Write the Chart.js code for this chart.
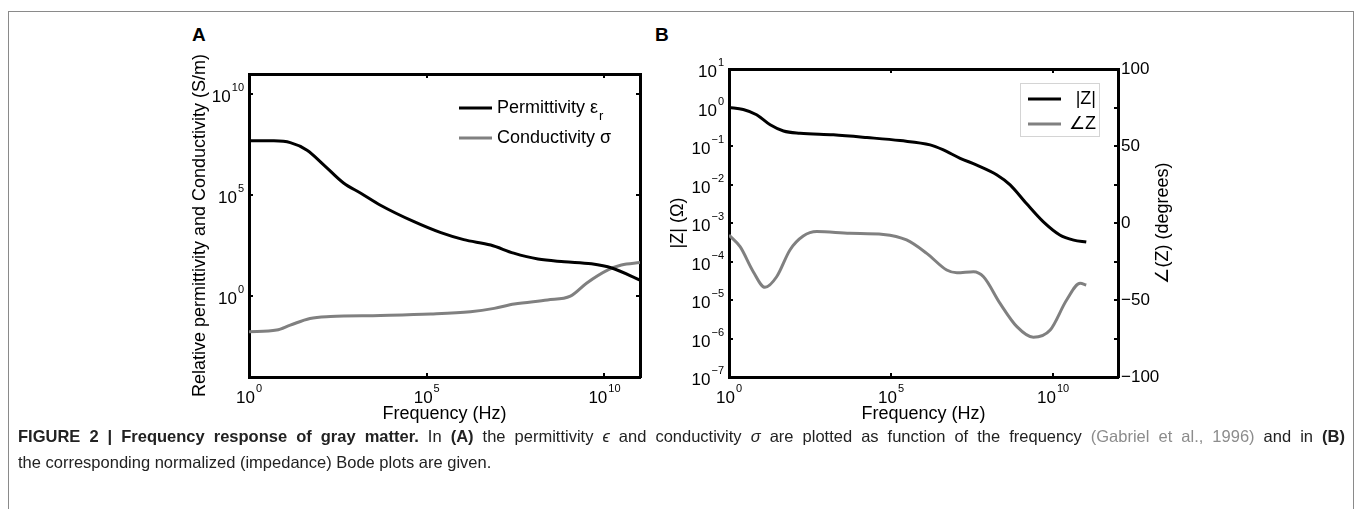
<!DOCTYPE html>
<html>
<head>
<meta charset="utf-8">
<script src="https://cdn.jsdelivr.net/npm/chart.js@4.4.0/dist/chart.umd.min.js"></script>
<style>
body{margin:0;background:#fff;width:1358px;height:509px;position:relative;overflow:hidden;font-family:"Liberation Sans",Arial,sans-serif;color:#222}
#frame{position:absolute;left:8px;top:11px;width:1344px;height:540px;border:1px solid #8a8a8a}
canvas{position:absolute}
#cA{left:150px;top:30px}
#cB{left:640px;top:30px}
.tag{position:absolute;font-weight:bold;font-size:19px;color:#000}
#caption{position:absolute;left:18px;top:423px;font-size:16.5px;line-height:26px;white-space:nowrap}
#caption .l1{width:1327px;text-align:justify;text-align-last:justify;white-space:normal}
#caption .ref{color:#8c8c8c}
</style>
</head>
<body>
<div id="frame"></div>
<div class="tag" style="left:192px;top:24px">A</div>
<div class="tag" style="left:655px;top:24px">B</div>
<canvas id="cA" width="540" height="400"></canvas>
<canvas id="cB" width="560" height="400"></canvas>
<div id="caption">
<div class="l1"><b>FIGURE 2 | Frequency response of gray matter.</b> In <b>(A)</b> the permittivity <i>ϵ</i> and conductivity <i>σ</i> are plotted as function of the frequency <span class="ref">(Gabriel et al., 1996)</span> and in <b>(B)</b></div>
<div>the corresponding normalized (impedance) Bode plots are given.</div>
</div>
<script>
// panel A: permittivity and conductivity of gray matter
const freqPerm = [1, 5, 14.5, 43, 126, 457, 1.4e3, 5.0e3, 4.4e4, 2.5e5, 1.1e6, 6.3e6, 2.8e7, 1.35e8, 7.4e8, 4.3e9, 1.6e10, 1e11];
const permittivity = [5.0e7, 4.9e7, 4.0e7, 1.7e7, 3.2e6, 4.0e5, 1.26e5, 3.2e4, 4.9e3, 1.4e3, 630, 340, 135, 69, 51, 40, 25, 6.3];
const freqCond = [1, 6, 14.5, 52, 195, 5.0e3, 1.3e5, 1.7e6, 7.9e6, 2.9e7, 2.5e8, 1.1e9, 3.2e9, 1.26e10, 3.0e10, 1e11];
const conductivity = [0.0174, 0.021, 0.037, 0.079, 0.098, 0.11, 0.13, 0.17, 0.25, 0.41, 0.65, 1.0, 4.5, 20, 35, 46];

// panel B: normalized impedance magnitude and phase
const freqMag = [1, 2.75, 7.1, 18.6, 48, 155, 1.66e3, 1.8e4, 1.9e5, 1.6e6, 4.1e6, 1.35e7, 4.4e7, 1.8e8, 4.7e8, 1.5e9, 5.0e9, 1.6e10, 4.3e10, 1.05e11];
const magnitude = [1.0, 0.89, 0.65, 0.355, 0.245, 0.214, 0.195, 0.166, 0.138, 0.107, 0.079, 0.048, 0.032, 0.018, 0.0098, 0.0032, 0.00107, 4.9e-4, 3.6e-4, 3.2e-4];
const freqPhase = [1, 2.2, 5.6, 12.9, 29.5, 76, 195, 513, 5.4e3, 5.8e4, 3.0e5, 1.26e6, 5.2e6, 1.07e7, 3.5e7, 7.1e7, 2.3e8, 7.6e8, 2.45e9, 8.1e9, 2.6e10, 6.8e10, 1.05e11];
const phase = [-7.8, -15.4, -31.6, -41.8, -34.9, -17.5, -8.5, -5.6, -6.7, -7.4, -11.0, -19.7, -30.5, -32.3, -31.6, -34.9, -52.2, -67.3, -74.2, -69.5, -50, -39.2, -40.3];

// tick values
const xTicks = [1, 1e5, 1e10];
const yTicksA = [1, 1e5, 1e10];
const yTicksMag = [1e-7, 1e-6, 1e-5, 1e-4, 1e-3, 1e-2, 1e-1, 1, 10];

const FONT = '"Liberation Sans", Arial, sans-serif';
function pts(xs, ys) { return xs.map((x, i) => ({x: x, y: ys[i]})); }

// "10" with a raised exponent, placed at the scale's own tick positions
const powerTicks = {
  id: 'powerTicks',
  afterDraw(chart, args, o) {
    const ctx = chart.ctx;
    ctx.save();
    ctx.fillStyle = '#000';
    ctx.textBaseline = 'alphabetic';
    ctx.textAlign = 'left';
    o.axes.forEach(id => {
      const s = chart.scales[id];
      s.ticks.forEach(t => {
        const p = s.getPixelForValue(t.value);
        const exp = String(Math.round(Math.log10(t.value))).replace('-', '\u2212');
        ctx.font = '17px ' + FONT;
        const wb = ctx.measureText('10').width;
        ctx.font = '11px ' + FONT;
        const we = ctx.measureText(exp).width;
        let x, y;
        if (s.isHorizontal()) {
          x = p - (wb + we + 1) / 2;
          y = s.top + 26;
        } else {
          x = s.right - 5 - (wb + we + 1);
          y = p + 8;
        }
        ctx.font = '17px ' + FONT;
        ctx.fillText('10', x, y);
        ctx.font = '11px ' + FONT;
        ctx.fillText(exp, x + wb + 1, y - 11);
      });
    });
    ctx.restore();
  }
};

// legend drawn inside the plot area, plus an optional rotated right-side title
const panelExtras = {
  id: 'panelExtras',
  afterDatasetsDraw(chart, args, o) {
    const ctx = chart.ctx, a = chart.chartArea;
    ctx.save();
    if (o.box) {
      ctx.fillStyle = '#fff';
      ctx.strokeStyle = '#d4d4d4';
      ctx.lineWidth = 1;
      ctx.fillRect(a.right - o.box.right, a.top + o.box.top, o.box.w, o.box.h);
      ctx.strokeRect(a.right - o.box.right + 0.5, a.top + o.box.top + 0.5, o.box.w, o.box.h);
    }
    ctx.textBaseline = 'middle';
    chart.data.datasets.forEach((ds, i) => {
      const y = a.top + o.top + i * o.rowGap;
      const x0 = a.right - o.right;
      ctx.strokeStyle = ds.borderColor;
      ctx.lineWidth = ds.borderWidth;
      ctx.beginPath();
      ctx.moveTo(x0, y);
      ctx.lineTo(x0 + o.lineLen, y);
      ctx.stroke();
      ctx.fillStyle = '#000';
      ctx.font = '18px ' + FONT;
      // a trailing subscript r is drawn as a smaller, lowered letter
      const hasSub = ds.label.endsWith('ᵣ');
      const main = hasSub ? ds.label.slice(0, -1) : ds.label;
      if (o.textRight) {
        ctx.textAlign = 'right';
        ctx.fillText(main, a.right - o.textRight, y);
      } else {
        ctx.textAlign = 'left';
        const tx = x0 + o.lineLen + 5;
        ctx.fillText(main, tx, y);
        if (hasSub) {
          const w = ctx.measureText(main).width;
          ctx.font = '13px ' + FONT;
          ctx.fillText('r', tx + w + 1, y + 8);
        }
      }
    });
    if (o.rightTitle) {
      ctx.font = '18px ' + FONT;
      ctx.translate(o.rightTitle.x, (a.top + a.bottom) / 2);
      ctx.rotate(-Math.PI / 2);
      ctx.textAlign = 'center';
      ctx.fillText(o.rightTitle.text, 0, 0);
    }
    ctx.restore();
  }
};

// thick black frame side with small inward tick marks
function frameAxis(pos, opts, tickOpts) {
  const horiz = pos === 'top' || pos === 'bottom';
  return Object.assign({
    position: pos,
    border: {color: '#000', width: 3},
    grid: {drawOnChartArea: false, color: '#000', lineWidth: 2, tickLength: -4},
    ticks: Object.assign({color: '#000', font: {size: 17, family: FONT}, autoSkip: false, maxRotation: 0,
      padding: horiz ? 15 : 8, display: false}, tickOpts || {})
  }, opts);
}

Chart.defaults.font.family = FONT;

new Chart(document.getElementById('cA'), {
  type: 'scatter',
  data: {
    datasets: [
      {label: 'Permittivity εᵣ', data: pts(freqPerm, permittivity), borderColor: '#000', borderWidth: 3},
      {label: 'Conductivity σ', data: pts(freqCond, conductivity), borderColor: '#808080', borderWidth: 3}
    ]
  },
  options: {
    responsive: false, animation: false, devicePixelRatio: 1,
    showLine: true, elements: {point: {radius: 0}, line: {cubicInterpolationMode: 'monotone'}},
    layout: {padding: {top: 44, right: 50, left: 0, bottom: 0}},
    plugins: {legend: {display: false}, tooltip: {enabled: false},
      panelExtras: {top: 34, rowGap: 30, right: 181, lineLen: 33},
      powerTicks: {axes: ['x', 'y']}},
    scales: {
      x: frameAxis('bottom', {type: 'logarithmic', min: 1, max: 1e11,
        afterBuildTicks: s => { s.ticks = xTicks.map(v => ({value: v})); },
        afterFit: s => { s.height = 53; },
        title: {display: true, text: 'Frequency (Hz)', color: '#000', font: {size: 18}, padding: {top: 0, bottom: 5}}}),
      x2: frameAxis('top', {type: 'logarithmic', min: 1, max: 1e11,
        afterBuildTicks: s => { s.ticks = xTicks.map(v => ({value: v})); },
        afterFit: s => { s.height = 0; }}),
      y: frameAxis('left', {type: 'logarithmic', min: 1e-4, max: 1e11,
        afterBuildTicks: s => { s.ticks = yTicksA.map(v => ({value: v})); },
        afterFit: s => { s.width = 99; },
        title: {display: true, text: 'Relative permittivity and Conductivity (S/m)', color: '#000', font: {size: 18}, padding: {top: 39, bottom: 0}}}),
      y2: frameAxis('right', {type: 'logarithmic', min: 1e-4, max: 1e11,
        afterBuildTicks: s => { s.ticks = yTicksA.map(v => ({value: v})); },
        afterFit: s => { s.width = 0; }})
    }
  },
  plugins: [panelExtras, powerTicks]
});

new Chart(document.getElementById('cB'), {
  type: 'scatter',
  data: {
    datasets: [
      {label: '|Z|', data: pts(freqMag, magnitude), borderColor: '#000', borderWidth: 3, yAxisID: 'y'},
      {label: '∠Z', data: pts(freqPhase, phase), borderColor: '#808080', borderWidth: 3, yAxisID: 'y2'}
    ]
  },
  options: {
    responsive: false, animation: false, devicePixelRatio: 1,
    showLine: true, elements: {point: {radius: 0}, line: {cubicInterpolationMode: 'monotone'}},
    layout: {padding: {top: 39, right: 23, left: 0, bottom: 0}},
    plugins: {legend: {display: false}, tooltip: {enabled: false},
      panelExtras: {top: 30, rowGap: 25, right: 90, lineLen: 33, textRight: 22,
        box: {right: 98, top: 14, w: 79, h: 53},
        rightTitle: {x: 523, text: '∠(Z) (degrees)'}},
      powerTicks: {axes: ['x', 'y']}},
    scales: {
      x: frameAxis('bottom', {type: 'logarithmic', min: 1, max: 1e12,
        afterBuildTicks: s => { s.ticks = xTicks.map(v => ({value: v})); },
        afterFit: s => { s.height = 53; },
        title: {display: true, text: 'Frequency (Hz)', color: '#000', font: {size: 18}, padding: {top: 0, bottom: 5}}}),
      x2: frameAxis('top', {type: 'logarithmic', min: 1, max: 1e12,
        afterBuildTicks: s => { s.ticks = xTicks.map(v => ({value: v})); },
        afterFit: s => { s.height = 0; }}),
      y: frameAxis('left', {type: 'logarithmic', min: 1e-7, max: 10,
        afterBuildTicks: s => { s.ticks = yTicksMag.map(v => ({value: v})); },
        afterFit: s => { s.width = 89; },
        title: {display: true, text: '|Z| (Ω)', color: '#000', font: {size: 18}, padding: {top: 27, bottom: 0}}}),
      y2: frameAxis('right', {type: 'linear', min: -100, max: 100,
        afterFit: s => { s.width = 59; }},
        {display: true, padding: 7, stepSize: 25,
          callback: v => v % 50 === 0 ? String(v).replace('-', '\u2212') : ''})
    }
  },
  plugins: [panelExtras, powerTicks]
});
</script>
</body>
</html>
